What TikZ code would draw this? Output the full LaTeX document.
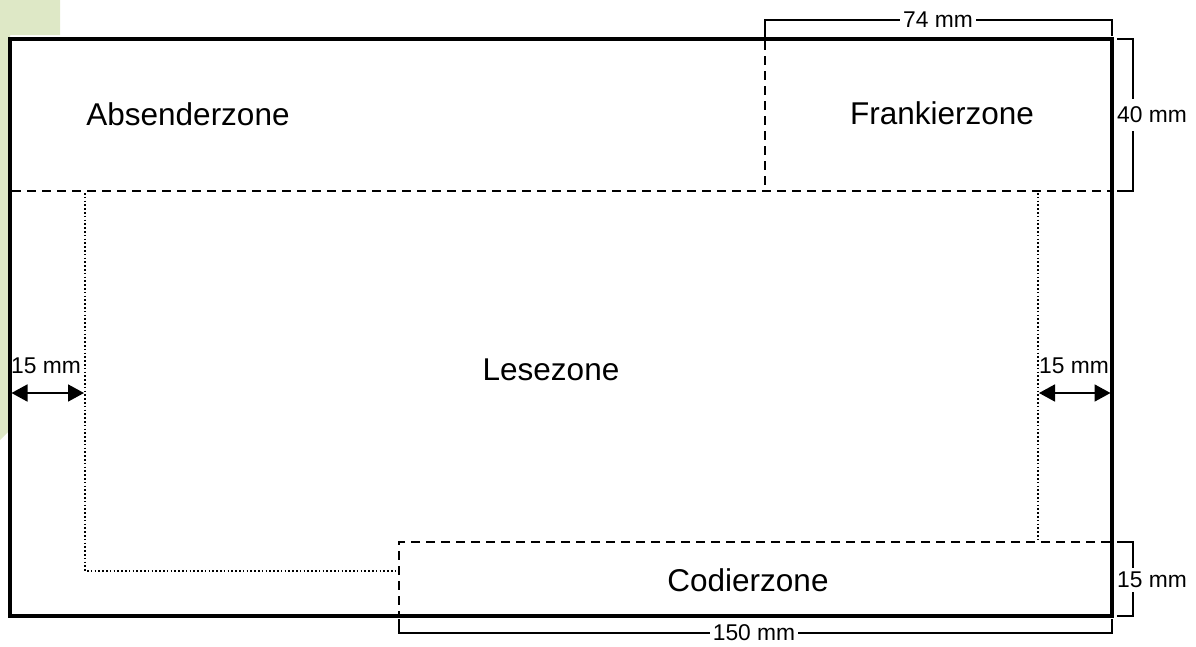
\documentclass[tikz,border=0pt]{standalone}
\usepackage{fontspec}
\setmainfont{Liberation Sans}
\usetikzlibrary{arrows.meta}
\definecolor{bggreen}{RGB}{222,232,198}
\tikzset{
  envelope/.style={line width=3.2pt, fill=white},
  zoneline/.style={line width=2.4pt, dash pattern=on 9pt off 6pt},
  readline/.style={line width=1.8pt, dash pattern=on 1.6pt off 2.2pt},
  dimline/.style={line width=1.1pt},
  zonelabel/.style={font=\fontsize{31.5}{36}\selectfont, inner sep=0pt},
  dimlabel/.style={font=\fontsize{22.8}{26}\selectfont, fill=white, inner xsep=3pt, inner ysep=2pt},
  sidelabel/.style={font=\fontsize{22.8}{26}\selectfont, fill=white, inner xsep=1pt, inner ysep=8pt},
  marginarrow/.style={line width=1.8pt, {Triangle[length=16pt,width=17pt]}-{Triangle[length=16pt,width=17pt]}}
}
\begin{document}
\begin{tikzpicture}[x=1pt,y=-1pt]
\useasboundingbox (0,0) rectangle (1196,646);
% faint background shape
\fill[bggreen] (0,0) -- (60,0) -- (60,35) -- (10,35) -- (10,430) -- (0,440) -- cycle;
% named coordinates
\coordinate (TL) at (10,39);
\coordinate (TR) at (1112,39);
\coordinate (BR) at (1112,616);
\coordinate (BL) at (10,616);
\coordinate (ML) at (12,191);
\coordinate (MR) at (1110,191);
\coordinate (FT) at (765,41);
\coordinate (FB) at (765,191);
\coordinate (LTL) at (85,193);
\coordinate (LBL) at (85,571);
\coordinate (LBM) at (397,571);
\coordinate (LTR) at (1038,193);
\coordinate (LBR) at (1038,541);
\coordinate (CT) at (399,542);
\coordinate (CR) at (1110,542);
\coordinate (CB) at (399,614);
% envelope
\draw[envelope] (TL) rectangle (BR);
% zones
\draw[zoneline] (ML) -- (MR);
\draw[zoneline] (FT) -- (FB);
\draw[zoneline] (CR) -- (CT) -- (CB);
\draw[readline] (LTL) -- (LBL) -- (LBM);
\draw[readline] (LTR) -- (LBR);
% zone labels
\node[zonelabel] (abs) at (188,114) {Absenderzone};
\node[zonelabel] (frank) at (942,113) {Frankierzone};
\node[zonelabel] (lese) at (551,370) {Lesezone};
\node[zonelabel] (codier) at (748,580) {Codierzone};
% dimension 74 mm
\coordinate (d74a) at (765,20);
\coordinate (d74b) at (1112,20);
\draw[dimline] (765,37) -- (d74a) -- (d74b) -- (1112,36);
\node[dimlabel] (l74) at (938,20) {74 mm};
% dimension 40 mm
\coordinate (d40a) at (1133,39);
\coordinate (d40b) at (1133,191);
\draw[dimline] (1117,39) -- (d40a) -- (d40b) -- (1117,191);
\node[sidelabel, anchor=west] (l40) at (1116,115) {40 mm};
% dimension 15 mm bottom right
\coordinate (d15a) at (1133,542);
\coordinate (d15b) at (1133,616);
\draw[dimline] (1117,542) -- (d15a) -- (d15b) -- (1117,616);
\node[sidelabel, anchor=west, inner ysep=4pt] (l15c) at (1116,580) {15 mm};
% dimension 150 mm
\coordinate (d150a) at (399,633);
\coordinate (d150b) at (1112,633);
\draw[dimline] (399,619) -- (d150a) -- (d150b) -- (1112,619);
\node[dimlabel] (l150) at (754,633) {150 mm};
% margin arrows
\coordinate (al) at (11.5,393);
\coordinate (ar) at (84,393);
\draw[marginarrow] (al) -- (ar);
\node[dimlabel, fill=none, inner sep=0pt] (l15l) at (46,366) {15 mm};
\coordinate (bl) at (1039,393);
\coordinate (br) at (1110.5,393);
\draw[marginarrow] (bl) -- (br);
\node[dimlabel, fill=none, inner sep=0pt] (l15r) at (1074,366) {15 mm};
\end{tikzpicture}
\end{document}
